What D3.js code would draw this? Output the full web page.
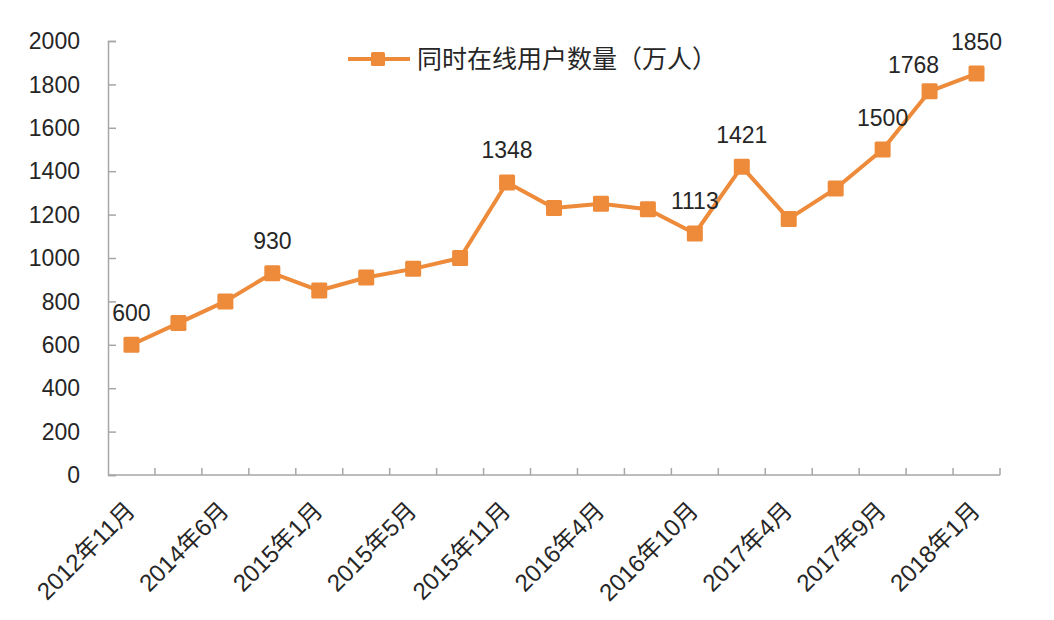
<!DOCTYPE html>
<html>
<head>
<meta charset="utf-8">
<script src="https://cdn.jsdelivr.net/npm/d3@7"></script>
<style>
  body { margin: 0; background: #fff; }
  text { font-family: "Liberation Sans", Arial, "Noto Sans CJK SC", sans-serif; fill: #262626; }
</style>
</head>
<body>
<svg id="chart" width="1054" height="620"></svg>
<script>
// categories (months) and values (万人)
var months = ["2012年11月", "2014年2月", "2014年6月", "2014年9月", "2015年1月", "2015年3月",
              "2015年5月", "2015年8月", "2015年11月", "2016年1月", "2016年4月", "2016年7月",
              "2016年10月", "2016年12月", "2017年4月", "2017年6月", "2017年9月", "2017年11月", "2018年1月"];
var users = [600, 700, 800, 930, 850, 910, 950, 1000, 1348, 1230, 1250, 1225,
             1113, 1421, 1180, 1320, 1500, 1768, 1850];
var labelled = [0, 3, 8, 12, 13, 16, 17, 18];   // points that carry a value label
var yTicks = [0, 200, 400, 600, 800, 1000, 1200, 1400, 1600, 1800, 2000];
var seriesName = "同时在线用户数量（万人）";

var orange = "#ED8B3B", axisColor = "#A6A6A6";

var svg = d3.select("#chart");

var x = d3.scaleBand().domain(months).range([108, 1000]);
var y = d3.scaleLinear().domain([0, 2000]).range([475, 41]);
var cx = function (d, i) { return x(months[i]) + x.bandwidth() / 2; };

/*========== Y axis ===========*/
var yAxis = svg.append("g").attr("transform", "translate(108,0)")
    .call(d3.axisRight(y).tickValues(yTicks).tickSize(8).tickFormat(""));
yAxis.select(".domain").attr("stroke", axisColor).attr("stroke-width", 1.5);
yAxis.selectAll(".tick line").attr("stroke", axisColor).attr("stroke-width", 1.5);

svg.append("g").selectAll("text")
    .data(yTicks).enter().append("text")
    .attr("x", 80).attr("y", function (d) { return y(d); })
    .attr("dy", "0.36em")
    .style("text-anchor", "end")
    .style("font-size", "23px")
    .text(function (d) { return d; });

/*========== X axis ===========*/
var bounds = months.map(function (m) { return x(m); }).concat([1000]);
var xAxis = svg.append("g");
xAxis.append("line")
    .attr("x1", 108).attr("x2", 1000).attr("y1", 475).attr("y2", 475)
    .attr("stroke", axisColor).attr("stroke-width", 1.5);
xAxis.selectAll(".xtick").data(bounds.slice(1)).enter().append("line")
    .attr("x1", function (d) { return d; }).attr("x2", function (d) { return d; })
    .attr("y1", 475).attr("y2", 468)
    .attr("stroke", axisColor).attr("stroke-width", 1.5);

svg.append("g").selectAll("text")
    .data(months).enter()
    .filter(function (d, i) { return i % 2 === 0; })
    .append("text")
    .attr("transform", function (d) {
        return "translate(" + (x(d) + x.bandwidth() / 2 - 1) + ",506) rotate(-45)";
    })
    .attr("dy", "0.35em")
    .style("text-anchor", "end")
    .style("font-size", "24px")
    .text(function (d) { return d; });

/*========== Line + markers ===========*/
var line = d3.line()
    .x(function (d, i) { return cx(d, i); })
    .y(function (d) { return y(d); });

svg.append("path").datum(users)
    .attr("d", line)
    .attr("fill", "none")
    .attr("stroke", orange)
    .attr("stroke-width", 4)
    .attr("stroke-linejoin", "round");

svg.append("g").selectAll("rect")
    .data(users).enter().append("rect")
    .attr("x", function (d, i) { return cx(d, i) - 8; })
    .attr("y", function (d) { return y(d) - 8; })
    .attr("width", 16).attr("height", 16)
    .attr("rx", 1.5)
    .attr("fill", orange);

svg.append("g").selectAll("text")
    .data(labelled).enter().append("text")
    .attr("x", function (i) { return cx(users[i], i) + (i === 17 ? -16 : 0); })
    .attr("y", function (i) { return y(users[i]) - (i === 17 ? 18 : 24); })
    .style("text-anchor", "middle")
    .style("font-size", "23px")
    .text(function (i) { return users[i]; });

/*========== Legend ===========*/
var legend = svg.append("g").attr("transform", "translate(348,59)");
legend.append("line").attr("x1", 0).attr("x2", 62)
    .attr("stroke", orange).attr("stroke-width", 4);
legend.append("rect").attr("x", 23).attr("y", -7).attr("width", 14).attr("height", 14)
    .attr("rx", 1.5).attr("fill", orange);
legend.append("text").attr("x", 69).attr("dy", "0.36em")
    .style("font-size", "25px")
    .style("font-family", "'Noto Sans CJK SC', sans-serif")
    .text(seriesName);
</script>
</body>
</html>
